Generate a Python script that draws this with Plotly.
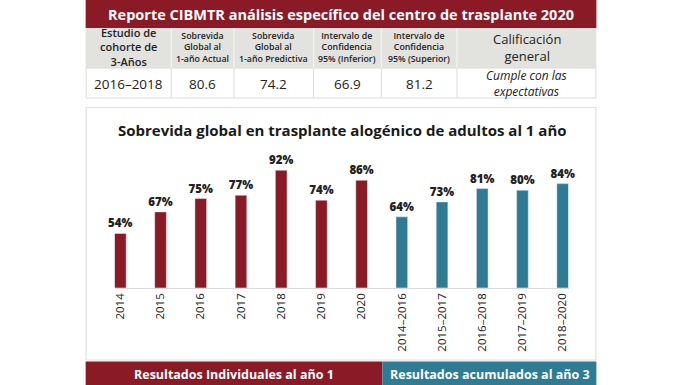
import plotly.graph_objects as go

# ---------------- data ----------------
years = ["2014", "2015", "2016", "2017", "2018", "2019", "2020"]
year_values = [54, 67, 75, 77, 92, 74, 86]
cohorts = ["2014–2016", "2015–2017", "2016–2018", "2017–2019", "2018–2020"]
cohort_values = [64, 73, 81, 80, 84]

report_title = "Reporte CIBMTR análisis específico del centro de trasplante 2020"
table_headers = ["Estudio de<br>cohorte de<br>3-Años",
                 "Sobrevida<br>Global al<br>1-año Actual",
                 "Sobrevida<br>Global al<br>1-año Predictiva",
                 "Intervalo de<br>Confidencia<br>95% (Inferior)",
                 "Intervalo de<br>Confidencia<br>95% (Superior)",
                 "Calificación<br>general"]
table_values = ["2016–2018", "80.6", "74.2", "66.9", "81.2",
                "<i>Cumple con las<br>expectativas</i>"]
chart_title = "Sobrevida global en trasplante alogénico de adultos al 1 año"
band_left = "Resultados Individuales al año 1"
band_right = "Resultados acumulados al año 3"

# ---------------- styling ----------------
W, H = 684, 385
RED = "#8a1a25"
BLUE = "#2f7b93"
GRAY = "#e2e2df"
FONT = "Open Sans"


def X(px):
    return px / W


def Y(py):
    return 1 - py / H


def note(text, px, py, font):
    return dict(text=text, x=X(px), y=Y(py), xref="paper", yref="paper",
                xanchor="center", yanchor="middle", showarrow=False, font=font)


fig = go.Figure()
for cats, vals, col in [(years, year_values, RED), (cohorts, cohort_values, BLUE)]:
    fig.add_trace(go.Bar(
        x=cats, y=vals, marker_color=col, width=0.29,
        text=[f"{v}%" for v in vals], textposition="outside", constraintext="none",
        textfont=dict(family=FONT, size=11.5, color="#222222", weight=800),
        cliponaxis=False, hoverinfo="skip"))

shapes = []
annotations = []

# header red band
shapes.append(dict(type="rect", xref="paper", yref="paper", x0=X(84), x1=X(597),
                   y0=Y(28), y1=Y(0), fillcolor=RED, line_width=0, layer="below"))
annotations.append(note(f"<b>{report_title}</b>", 340, 14.5,
                        dict(family=FONT, size=14.5, color="white")))
# table rows
shapes.append(dict(type="rect", xref="paper", yref="paper", x0=X(84), x1=X(597),
                   y0=Y(68), y1=Y(28), fillcolor=GRAY, line_width=0, layer="below"))
shapes.append(dict(type="rect", xref="paper", yref="paper", x0=X(84.5), x1=X(596.5),
                   y0=Y(98), y1=Y(68), fillcolor="white", line=dict(color="#dcdcda", width=1), layer="below"))
col_edges = [84, 170, 233, 313, 381, 457, 597]
for e in col_edges[1:-1]:
    shapes.append(dict(type="line", xref="paper", yref="paper", x0=X(e), x1=X(e),
                       y0=Y(68), y1=Y(28), line=dict(color="#f4f4f2", width=1.2)))
    shapes.append(dict(type="line", xref="paper", yref="paper", x0=X(e), x1=X(e),
                       y0=Y(98), y1=Y(68), line=dict(color="#dcdcda", width=1)))
for i, (h, v) in enumerate(zip(table_headers, table_values)):
    cx = (col_edges[i] + col_edges[i + 1]) / 2
    if i == 0:
        hf = dict(family=FONT, size=11, color="#222222", weight=600)
    elif i == 5:
        hf = dict(family=FONT, size=13, color="#222222", weight=500)
    else:
        hf = dict(family=FONT, size=8.8, color="#222222", weight=600)
    annotations.append(note(h, cx, 47.5, hf))
    vf = dict(family=FONT, size=12 if i == 5 else 13.5, color="#222222")
    annotations.append(note(v, cx, 83.5, vf))

# chart panel
shapes.append(dict(type="rect", xref="paper", yref="paper", x0=X(84.5), x1=X(596.5),
                   y0=Y(360), y1=Y(107.5), fillcolor="white", line=dict(color="#e0e0de", width=1.2),
                   layer="below"))
annotations.append(note(f"<b>{chart_title}</b>", 342, 130,
                        dict(family=FONT, size=15, color="#1a1a1a", weight=800)))

# bottom bands
shapes.append(dict(type="rect", xref="paper", yref="paper", x0=X(84), x1=X(382),
                   y0=Y(385), y1=Y(361.5), fillcolor=RED, line_width=0))
shapes.append(dict(type="rect", xref="paper", yref="paper", x0=X(382), x1=X(597),
                   y0=Y(385), y1=Y(361.5), fillcolor=BLUE, line_width=0))
annotations.append(note(f"<b>{band_left}</b>", 233, 374, dict(family=FONT, size=12.5, color="white")))
annotations.append(note(f"<b>{band_right}</b>", 490, 374, dict(family=FONT, size=12.5, color="white")))

fig.update_layout(
    width=W, height=H, margin=dict(l=0, r=0, t=0, b=0),
    paper_bgcolor="white", plot_bgcolor="rgba(0,0,0,0)",
    barmode="overlay", showlegend=False,
    shapes=shapes, annotations=annotations,
    xaxis=dict(domain=[X(113), X(569)], range=[-0.145, 11.145], type="category",
               categoryorder="array", categoryarray=years + cohorts,
               tickangle=-90, showline=True, linecolor="#d9d9d9", linewidth=1,
               ticks="", showgrid=False, zeroline=False,
               tickfont=dict(family=FONT, size=11.5, color="#222222")),
    yaxis=dict(domain=[Y(287.7), Y(160)], range=[21.4, 98.2], visible=False,
               showgrid=False, zeroline=False),
)

fig.write_html("out.html", config={"displayModeBar": False},
               post_script="document.body.style.margin='0';")
